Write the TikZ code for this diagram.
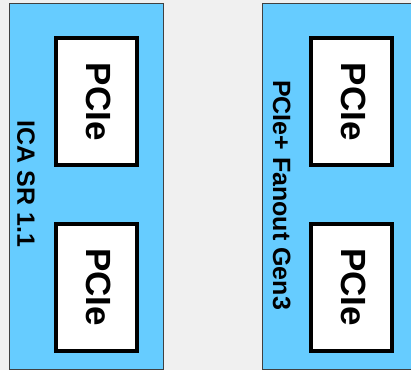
\documentclass[tikz,border=0pt]{standalone}
\usepackage{fontspec}
\setmainfont{Liberation Sans}
\definecolor{bggray}{HTML}{F0F0F0}
\definecolor{cardblue}{HTML}{66CCFF}
\definecolor{edgegray}{HTML}{404040}
\begin{document}
\begin{tikzpicture}[x=1pt,y=-1pt,
  card/.style={draw=edgegray, line width=1pt, fill=cardblue},
  slotbox/.style={draw=black, line width=3.6pt, fill=white, rotate=-90,
    minimum width=127pt, minimum height=81pt, inner sep=0pt, text depth=5pt,
    font=\fontsize{35}{40}\selectfont\bfseries},
  cardlabel/.style={rotate=-90, inner sep=0pt,
    font=\fontsize{25}{30}\selectfont\bfseries}]
\fill[bggray] (0,0) rectangle (411,370);
\useasboundingbox (0,0) rectangle (411,370);
% cards
\draw[card] (9,3.5) rectangle (163.5,369);
\draw[card] (262.7,3.5) rectangle (430,369);
% slots
\node[slotbox] (l1) at (96.7,101.6) {PCIe};
\node[slotbox] (l2) at (96.7,287.2) {PCIe};
\node[slotbox] (r1) at (351.2,101.6) {PCIe};
\node[slotbox] (r2) at (351.2,287.2) {PCIe};
% labels
\node[cardlabel] (ll) at (25.9,184) {ICA SR 1.1};
\node[cardlabel] (rl) at (281.8,195) {PCIe+ Fanout Gen3};
\end{tikzpicture}
\end{document}
